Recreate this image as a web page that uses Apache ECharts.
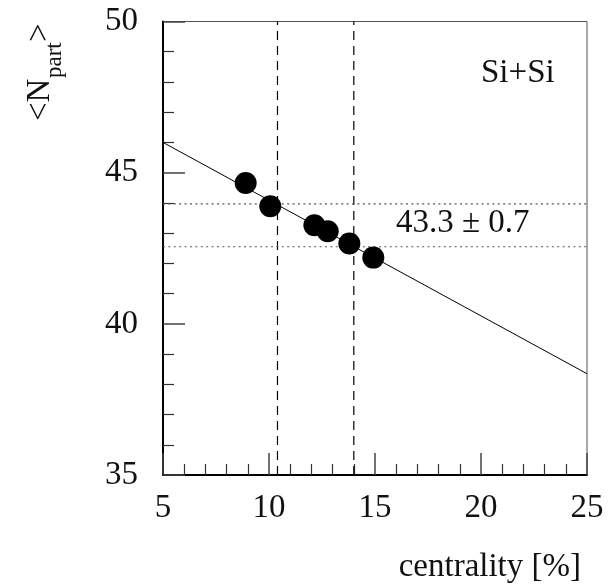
<!DOCTYPE html>
<html><head><meta charset="utf-8">
<script src="https://cdn.jsdelivr.net/npm/echarts@6/dist/echarts.min.js"></script>
<style>html,body{margin:0;padding:0;background:#fff}#c{width:612px;height:586px}</style>
</head><body><div id="c"></div>
<script>
// Data
const centrality = [8.9, 10.06, 12.14, 12.77, 13.79, 14.92];
const npart = [44.66, 43.89, 43.26, 43.06, 42.66, 42.19];
const fitX = [5, 25];
const fitY = [46.0, 38.35];
const cutX = [10.4, 14.0];
const bandY = [43.97, 42.55];
const bandLabel = '43.3 \u00b1 0.7';
const systemLabel = 'Si+Si';
const xTitle = 'centrality [%]';
const yTitleParts = ['<N', 'part', '>'];

const FONT = 'Liberation Serif';
const chart = echarts.init(document.getElementById('c'), null, {renderer: 'canvas'});

const series = [];
series.push({
  type: 'line', data: fitX.map((x, i) => [x, fitY[i]]), symbol: 'none',
  lineStyle: {color: '#000', width: 1}, z: 3, silent: true
});
cutX.forEach(x => series.push({
  type: 'line', data: [[x, 35], [x, 50]], symbol: 'none',
  lineStyle: {color: '#000', width: 1.2, type: [9, 6]}, z: 2, silent: true
}));
bandY.forEach(y => series.push({
  type: 'line', data: [[5, y], [25, y]], symbol: 'none',
  lineStyle: {color: '#555', width: 1.2, type: [2, 3.4]}, z: 2, silent: true
}));
series.push({
  type: 'scatter', data: centrality.map((x, i) => [x, npart[i]]),
  symbol: 'circle', symbolSize: 22, itemStyle: {color: '#000', opacity: 1}, z: 5
});

chart.setOption({
  animation: false,
  grid: {left: 163, right: 25, top: 21.5, bottom: 111, show: true, borderColor: '#555', borderWidth: 1},
  xAxis: {
    type: 'value', min: 5, max: 25, interval: 5,
    axisLine: {show: true, onZero: false, lineStyle: {color: '#000', width: 2}},
    axisTick: {show: true, inside: true, length: 22, lineStyle: {color: '#444', width: 1.5}},
    minorTick: {show: true, splitNumber: 5, length: 11, lineStyle: {color: '#333', width: 1.2}},
    splitLine: {show: false},
    axisLabel: {fontFamily: FONT, fontSize: 33, color: '#111', margin: 17}
  },
  yAxis: {
    type: 'value', min: 35, max: 50, interval: 5,
    axisLine: {show: true, onZero: false, lineStyle: {color: '#000', width: 2}},
    axisTick: {show: true, inside: true, length: 22, lineStyle: {color: '#444', width: 1.5}},
    minorTick: {show: true, splitNumber: 5, length: 11, lineStyle: {color: '#333', width: 1.2}},
    splitLine: {show: false},
    axisLabel: {fontFamily: FONT, fontSize: 33, color: '#111', margin: 25}
  },
  series: series,
  graphic: [
    {type: 'text', left: 396, top: 207, style: {text: bandLabel, font: '33px "Liberation Serif"', fill: '#111'}},
    {type: 'text', left: 481, top: 57, style: {text: systemLabel, font: '33px "Liberation Serif"', fill: '#111'}},
    {type: 'text', right: 31, top: 551, style: {text: xTitle, font: '33px "Liberation Serif"', fill: '#111'}},
    {type: 'text', x: 40, y: 121, rotation: Math.PI / 2,
      style: {text: yTitleParts[0], align: 'left', verticalAlign: 'middle', font: '33px "Liberation Serif"', fill: '#111'}},
    {type: 'text', x: 55, y: 78, rotation: Math.PI / 2,
      style: {text: yTitleParts[1], align: 'left', verticalAlign: 'middle', font: '23px "Liberation Serif"', fill: '#111'}},
    {type: 'text', x: 40, y: 42, rotation: Math.PI / 2,
      style: {text: yTitleParts[2], align: 'left', verticalAlign: 'middle', font: '33px "Liberation Serif"', fill: '#111'}}
  ]
});
</script></body></html>
